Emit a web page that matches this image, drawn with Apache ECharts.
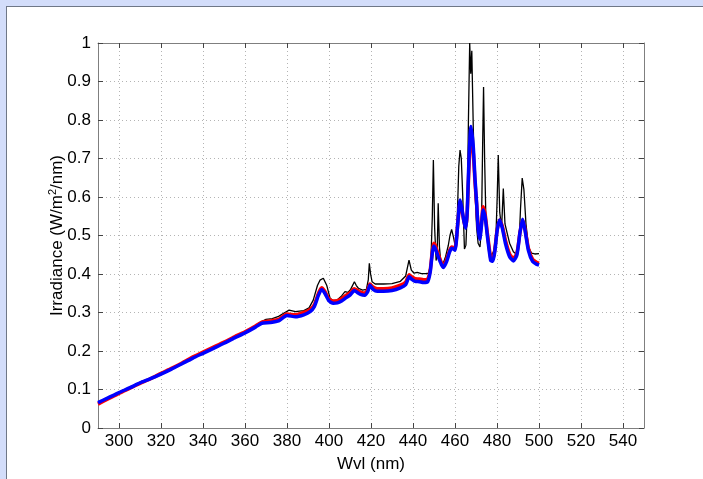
<!DOCTYPE html>
<html>
<head>
<meta charset="utf-8">
<script src="https://cdn.jsdelivr.net/npm/echarts@6/dist/echarts.min.js"></script>
<style>
  html, body { margin: 0; padding: 0; width: 703px; height: 479px; background: #d3ddfa; overflow: hidden; }
  #panel { position: absolute; left: 6px; top: 6px; right: 0; bottom: 0; background: #fff;
           border-top: 1px solid #6f7787; border-left: 1px solid #6f7787; }
  #cnv { position: absolute; left: 0; top: 0; width: 703px; height: 479px; }
</style>
</head>
<body>
<div id="panel"></div>
<div id="cnv"></div>
<script>
// x tick labels and y ticks
var xTicks = [300, 320, 340, 360, 380, 400, 420, 440, 460, 480, 500, 520, 540];

// smoothed spectra (red, blue) share one wavelength list
var smoothWvl = [290, 295, 300, 305, 310, 315, 320, 325, 330, 335, 340, 345, 350, 355, 360, 365, 368, 372, 376, 380,
  384, 388, 391, 393, 395, 396.5, 398, 400, 402, 404, 406, 408, 410, 412, 413.5, 415, 417, 418.5, 419.5, 421,
  423, 426, 430, 434, 436.5, 438.2, 439.5, 441, 443, 445, 447, 448.2, 449, 449.8, 450.5, 452, 453.5, 454.5, 456, 457.5,
  458.5, 460, 461.3, 462.4, 463.3, 464.3, 465.1, 465.8, 466.6, 467.6, 468.7, 469.5, 470.3, 471, 471.8, 472.5, 473.4, 474.3, 475.5, 477,
  478, 479, 480, 481.2, 482.5, 484, 486, 487.8, 489.5, 491, 492.2, 493.3, 495, 497, 499, 500];
var blueVal = [0.066, 0.079, 0.092, 0.104, 0.117, 0.128, 0.140, 0.153, 0.167, 0.181, 0.194, 0.207, 0.220, 0.234, 0.247, 0.262, 0.272, 0.274, 0.278, 0.292,
  0.289, 0.294, 0.302, 0.315, 0.345, 0.360, 0.350, 0.330, 0.324, 0.325, 0.330, 0.338, 0.345, 0.357, 0.352, 0.347, 0.345, 0.355, 0.371, 0.360,
  0.355, 0.355, 0.357, 0.364, 0.372, 0.393, 0.386, 0.381, 0.380, 0.378, 0.380, 0.405, 0.445, 0.473, 0.468, 0.445, 0.425, 0.417, 0.432, 0.458,
  0.467, 0.462, 0.530, 0.592, 0.570, 0.535, 0.519, 0.560, 0.690, 0.783, 0.731, 0.650, 0.584, 0.520, 0.490, 0.520, 0.566, 0.550, 0.495, 0.435,
  0.433, 0.460, 0.510, 0.540, 0.520, 0.480, 0.445, 0.434, 0.450, 0.510, 0.542, 0.515, 0.460, 0.432, 0.425, 0.423];
var redVal = [0.062, 0.076, 0.090, 0.103, 0.116, 0.128, 0.142, 0.155, 0.169, 0.184, 0.197, 0.210, 0.223, 0.237, 0.250, 0.265, 0.275, 0.278, 0.282, 0.296,
  0.294, 0.300, 0.308, 0.320, 0.350, 0.364, 0.355, 0.335, 0.330, 0.331, 0.336, 0.344, 0.351, 0.362, 0.358, 0.353, 0.350, 0.360, 0.374, 0.366,
  0.362, 0.362, 0.364, 0.371, 0.379, 0.398, 0.392, 0.388, 0.387, 0.385, 0.387, 0.410, 0.450, 0.480, 0.476, 0.452, 0.430, 0.422, 0.438, 0.462,
  0.470, 0.467, 0.530, 0.585, 0.565, 0.535, 0.522, 0.555, 0.670, 0.760, 0.715, 0.640, 0.580, 0.525, 0.497, 0.525, 0.575, 0.558, 0.502, 0.442,
  0.438, 0.465, 0.512, 0.540, 0.525, 0.488, 0.452, 0.440, 0.455, 0.510, 0.540, 0.518, 0.466, 0.438, 0.430, 0.428];

// raw spectrum (black)
var rawWvl = [290, 300, 310, 320, 330, 340, 350, 355, 360, 364, 367, 370, 373, 376, 379, 381, 384, 388, 390.5, 392.5,
  394.5, 395.7, 397.3, 398.9, 400.5, 402, 404, 406, 407.6, 409, 410.3, 411, 412.1, 413, 414, 416, 417.8, 418.7, 419.2, 419.8,
  420.5, 422, 426, 430, 434, 436.5, 438.1, 439.2, 440.5, 442, 444, 446, 447.5, 448.5, 449.2, 449.7, 450.3, 451, 451.5, 452,
  452.6, 453.2, 454.4, 455.5, 456.8, 457.6, 458.4, 459.3, 460.2, 461, 461.8, 462.4, 463, 463.7, 464.5, 465.2, 465.8, 466.4, 467, 467.5,
  468, 468.7, 469.5, 470.3, 471, 471.9, 472.6, 473.2, 473.6, 474.1, 474.8, 475.8, 476.7, 477.5, 478.5, 479.5, 480.1, 480.6, 481.3, 482.2,
  483, 483.8, 484.9, 486, 487.8, 488.6, 489.5, 490.5, 491.2, 492, 492.8, 493.8, 495, 496.5, 498, 500];
var rawVal = [0.066, 0.092, 0.117, 0.141, 0.168, 0.196, 0.222, 0.236, 0.250, 0.262, 0.274, 0.282, 0.284, 0.290, 0.300, 0.306, 0.302, 0.305, 0.312, 0.332,
  0.370, 0.384, 0.389, 0.371, 0.337, 0.331, 0.333, 0.343, 0.354, 0.352, 0.360, 0.365, 0.380, 0.370, 0.363, 0.358, 0.360, 0.385, 0.428, 0.400,
  0.380, 0.374, 0.374, 0.375, 0.381, 0.395, 0.436, 0.410, 0.402, 0.404, 0.401, 0.401, 0.402, 0.430, 0.550, 0.696, 0.520, 0.435, 0.450, 0.584,
  0.470, 0.432, 0.428, 0.445, 0.474, 0.500, 0.516, 0.495, 0.470, 0.530, 0.680, 0.722, 0.700, 0.600, 0.465, 0.475, 0.560, 0.800, 1.0, 0.920,
  0.980, 0.780, 0.620, 0.520, 0.480, 0.470, 0.520, 0.750, 0.886, 0.700, 0.520, 0.480, 0.455, 0.449, 0.460, 0.500, 0.600, 0.709, 0.560, 0.520,
  0.622, 0.530, 0.505, 0.480, 0.458, 0.462, 0.450, 0.480, 0.570, 0.649, 0.620, 0.530, 0.470, 0.454, 0.452, 0.453];

function pairs(xs, ys) {
  return xs.map(function (x, i) { return [x, ys[i]]; });
}

var axisColor = '#7f7f7f';
var font = { fontFamily: 'Liberation Sans, Arial, sans-serif', fontSize: 17, color: '#000' };

var main = document.getElementById('cnv');
var myechart = echarts.init(main, null, { renderer: 'canvas' });
var option = {
  animation: false,
  backgroundColor: 'transparent',
  grid: { left: 98, top: 43, right: 59, bottom: 51, containLabel: false },
  xAxis: [{
    type: 'value', min: 290, max: 550,
    name: 'Wvl (nm)', nameLocation: 'middle', nameGap: 28, nameMoveOverlap: false,
    nameTextStyle: font,
    axisLine: { onZero: false, lineStyle: { color: axisColor, width: 1 } },
    axisTick: { inside: true, length: 5, customValues: xTicks, lineStyle: { color: '#444' } },
    axisLabel: { customValues: xTicks, margin: 5, fontFamily: font.fontFamily, fontSize: 17, color: '#000' },
    splitLine: { show: true, lineStyle: { color: '#b4b4b4', type: [1, 3], width: 1 } }
  }, {
    type: 'value', min: 290, max: 550, position: 'top',
    axisLine: { onZero: false, lineStyle: { color: axisColor, width: 1 } },
    axisTick: { inside: true, length: 5, customValues: xTicks, lineStyle: { color: '#444' } },
    axisLabel: { show: false },
    splitLine: { show: false }
  }],
  yAxis: [{
    type: 'value', min: 0, max: 1, interval: 0.1,
    name: 'Irradiance (W/m{sup|2}/nm)', nameLocation: 'middle', nameGap: 31, nameMoveOverlap: false,
    nameTextStyle: {
      fontFamily: font.fontFamily, fontSize: 17, color: '#000',
      rich: { sup: { fontFamily: font.fontFamily, fontSize: 11, color: '#000', verticalAlign: 'bottom', padding: [0, 0, 9, 0] } }
    },
    axisLine: { show: true, onZero: false, lineStyle: { color: axisColor, width: 1 } },
    axisTick: { show: true, inside: true, length: 5, lineStyle: { color: '#444' } },
    axisLabel: { margin: 7, fontFamily: font.fontFamily, fontSize: 17, color: '#000',
      formatter: function (v) { return String(Math.round(v * 10) / 10); } },
    splitLine: { show: true, lineStyle: { color: '#b4b4b4', type: [1, 3], width: 1 } }
  }, {
    type: 'value', min: 0, max: 1, interval: 0.1, position: 'right',
    axisLine: { show: true, onZero: false, lineStyle: { color: axisColor, width: 1 } },
    axisTick: { show: true, inside: true, length: 5, lineStyle: { color: '#444' } },
    axisLabel: { show: false },
    splitLine: { show: false }
  }],
  series: [
    { type: 'line', data: pairs(rawWvl, rawVal), showSymbol: false, lineStyle: { color: '#000', width: 1.3 }, z: 2 },
    { type: 'line', data: pairs(smoothWvl, redVal), showSymbol: false, smooth: 0.2, lineStyle: { color: '#ff0000', width: 3.5 }, z: 3 },
    { type: 'line', data: pairs(smoothWvl, blueVal), showSymbol: false, smooth: 0.2, lineStyle: { color: '#0000ff', width: 3.5 }, z: 4 }
  ]
};
myechart.setOption(option);
</script>
</body>
</html>
